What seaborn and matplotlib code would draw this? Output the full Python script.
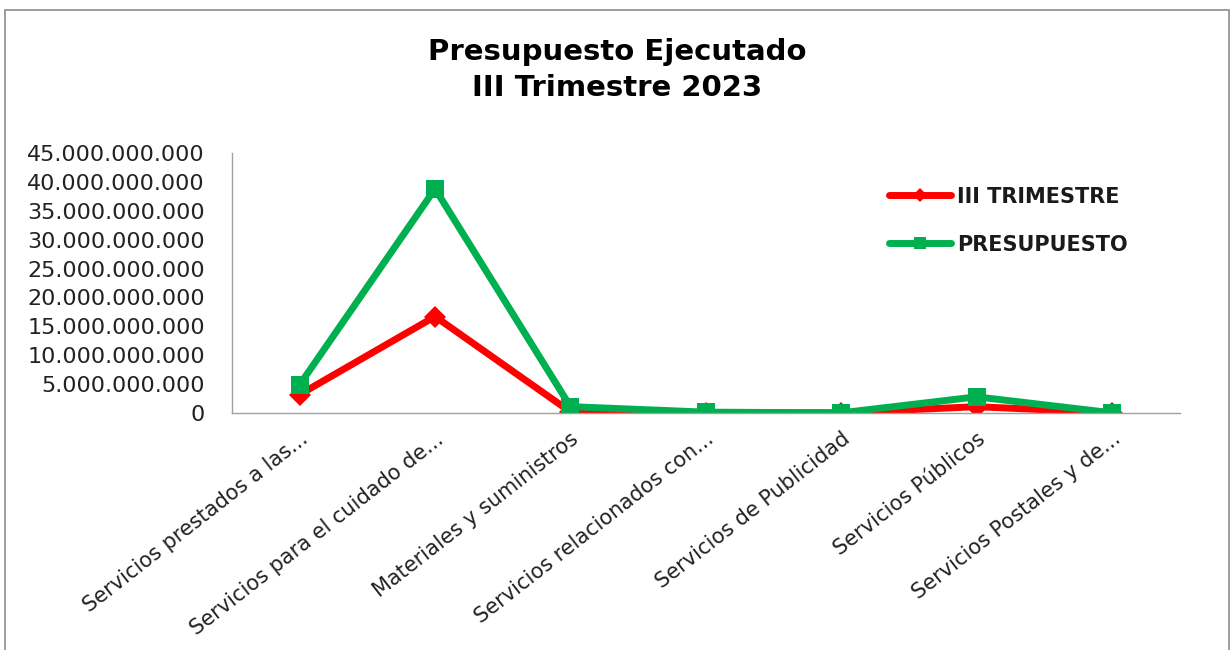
import matplotlib
matplotlib.use("Agg")
import matplotlib.pyplot as plt
import matplotlib.ticker as mticker
import matplotlib.patches as mpatches
import matplotlib.transforms as mtransforms
import seaborn as sns
import pandas as pd

# Chart data
categories = [
    "Servicios prestados a las...",
    "Servicios para el cuidado de...",
    "Materiales y suministros",
    "Servicios relacionados con...",
    "Servicios de Publicidad",
    "Servicios Públicos",
    "Servicios Postales y de...",
]
trimestre = [3.2e9, 16.7e9, 0.2e9, 0.05e9, 0.02e9, 1.1e9, 0.02e9]
presupuesto = [4.9e9, 38.8e9, 1.1e9, 0.15e9, 0.03e9, 2.8e9, 0.03e9]
series_names = ["III TRIMESTRE", "PRESUPUESTO"]
y_ticks = [0, 5e9, 10e9, 15e9, 20e9, 25e9, 30e9, 35e9, 40e9, 45e9]

sns.set_theme(style="white")
plt.rcParams["font.family"] = ["DejaVu Sans"]

df = pd.DataFrame({
    "pos": list(range(len(categories))) * 2,
    "valor": trimestre + presupuesto,
    "serie": [series_names[0]] * len(categories) + [series_names[1]] * len(categories),
})

fig = plt.figure(figsize=(12.3, 6.5), dpi=100)
ax = fig.add_axes([0.1886, 0.3646, 0.7705, 0.40])

sns.lineplot(data=df, x="pos", y="valor", hue="serie", style="serie",
             palette={"III TRIMESTRE": "#FF0000", "PRESUPUESTO": "#00B050"},
             markers={"III TRIMESTRE": "D", "PRESUPUESTO": "s"},
             dashes=False, linewidth=5, markersize=13, markeredgewidth=0,
             sort=False, ax=ax)
for ln in ax.get_lines():
    ln.set_solid_joinstyle("round")
    if ln.get_marker() == "D":
        ln.set_markersize(11)

ax.set_xlim(-0.5, len(categories) - 0.5)
ax.set_ylim(0, 45e9)
ax.set_yticks(y_ticks)
ax.yaxis.set_major_formatter(mticker.FuncFormatter(lambda v, p: f"{int(v):,}".replace(",", ".")))
ax.set_xticks(range(len(categories)))
ax.set_xticklabels(categories, rotation=38, ha="right", va="center",
                   rotation_mode="anchor", fontsize=15)
ax.tick_params(axis="y", labelsize=16, length=0, pad=19.5)
ax.tick_params(axis="x", length=0, pad=17)
shift = mtransforms.ScaledTranslation(0.06, 0, fig.dpi_scale_trans)
for lbl in ax.get_xticklabels():
    lbl.set_transform(lbl.get_transform() + shift)
    lbl.set_color("#222222")
for lbl in ax.get_yticklabels():
    lbl.set_color("#222222")
ax.set_xlabel("")
ax.set_ylabel("")

for s in ["top", "right"]:
    ax.spines[s].set_visible(False)
for s in ["left", "bottom"]:
    ax.spines[s].set_color("#A0A0A0")
    ax.spines[s].set_linewidth(1)

leg = ax.legend(loc="center left", bbox_to_anchor=(0.684, 0.740), borderaxespad=0,
                frameon=False, handlelength=3.0, labelspacing=1.35, handletextpad=0.3,
                prop={"weight": "bold", "size": 15})
for h in leg.legend_handles:
    h.set_linewidth(5)
    h.set_markersize(7 if h.get_marker() == "D" else 9)
    h.set_solid_capstyle("round")
for t in leg.get_texts():
    t.set_color("#1A1A1A")

fig.text(0.502, 0.892, "Presupuesto Ejecutado\nIII Trimestre 2023", ha="center", va="center",
         fontsize=21, fontweight="bold", linespacing=1.38, color="#000000")

# outer chart frame
frame = mpatches.Rectangle((5 / 1230, -0.05), 1224 / 1230, 1 - 10 / 650 + 0.05,
                           transform=fig.transFigure, fill=False,
                           edgecolor="#8C8C8C", linewidth=1.2, clip_on=False)
fig.patches.append(frame)

fig.savefig("out.png", dpi=100)
